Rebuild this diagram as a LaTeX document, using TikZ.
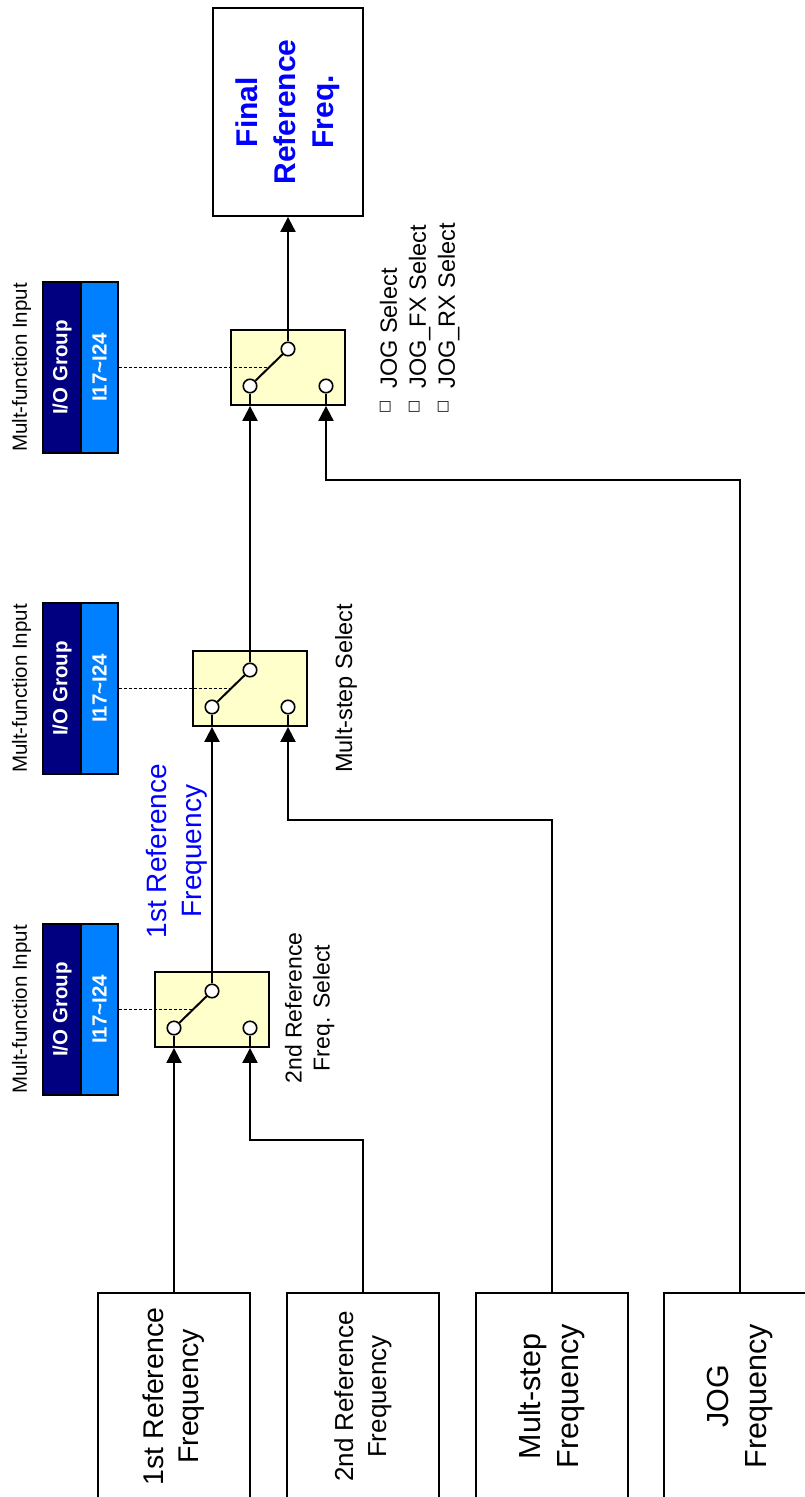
\documentclass[tikz,border=0pt]{standalone}
\usepackage{fontspec}
\setmainfont{Liberation Sans}
\newfontfamily\dejavu{DejaVu Sans}
\usetikzlibrary{arrows.meta,calc}
\definecolor{navyio}{RGB}{0,0,128}
\definecolor{blueio}{RGB}{0,128,255}
\definecolor{swfill}{RGB}{255,255,204}
\definecolor{lblblue}{RGB}{0,0,255}
\newcommand{\missbox}{\raisebox{8pt}{\dejavu\fontsize{14}{16}\selectfont □}}
\begin{document}
\begin{tikzpicture}[x=1pt,y=-1pt,
  box/.style={draw, line width=1.8pt, inner sep=0pt},
  swbox/.style={box, fill=swfill, minimum width=114pt, minimum height=75pt},
  srcbox/.style={box, minimum width=152pt, minimum height=207pt},
  term/.style={circle, draw, fill=white, line width=1.6pt, minimum size=13.5pt, inner sep=0pt},
  wire/.style={line width=2pt},
  arr/.style={wire, -{Triangle[length=15pt,width=15pt]}},
  ctl/.style={line width=1pt, dash pattern=on 3pt off 2pt},
  iobase/.style={draw, line width=1.4pt, minimum height=171pt, inner sep=0pt, text=white, font=\bfseries\fontsize{20.5}{24}\selectfont},
  iodark/.style={iobase, fill=navyio, minimum width=38pt},
  iolight/.style={iobase, fill=blueio, minimum width=37pt},
  mfi/.style={inner sep=0pt, font=\fontsize{20.5}{24}\selectfont},
  lbl/.style={inner sep=0pt}
]
\useasboundingbox (0,0) rectangle (804,1497);
\fill[white] (0,0) rectangle (804,1497);

% final box
\node[box, minimum width=150pt, minimum height=208pt] (fin) at (288,112)
  {\rotatebox{90}{\fontsize{30}{38}\selectfont\bfseries\color{lblblue}\begin{tabular}{@{}c@{}}Final\\Reference\\Freq.\end{tabular}}};

% source boxes
\node[srcbox] (b1) at (174,1396.5)
  {\rotatebox{90}{\fontsize{28.5}{35}\selectfont\begin{tabular}{@{}c@{}}1st Reference\\Frequency\end{tabular}}};
\node[srcbox] (b2) at (363,1396.5)
  {\rotatebox{90}{\fontsize{26}{33}\selectfont\begin{tabular}{@{}c@{}}2nd Reference\\Frequency\end{tabular}}};
\node[srcbox] (b3) at (552,1396.5)
  {\rotatebox{90}{\fontsize{30.5}{38}\selectfont\begin{tabular}{@{}c@{}}Mult-step\\Frequency\end{tabular}}};
\node[srcbox] (b4) at (740,1396.5)
  {\rotatebox{90}{\fontsize{30.5}{38}\selectfont\begin{tabular}{@{}c@{}}JOG\\Frequency\end{tabular}}};

% switches
\node[swbox] (sw1) at (212,1009.5) {};
\node[swbox] (sw2) at (250,688.5) {};
\node[swbox] (sw3) at (288,367.5) {};
\foreach \s in {1,2,3}{
  \node[term] (c\s l) at ($(sw\s)+(-38,18.5)$) {};
  \node[term] (c\s r) at ($(sw\s)+(38,18.5)$) {};
  \node[term] (c\s t) at ($(sw\s)+(0,-18.5)$) {};
  \draw[wire] (c\s l) -- (c\s l |- sw\s.south);
  \draw[wire] (c\s r) -- (c\s r |- sw\s.south);
  \draw[wire] (c\s l) -- (c\s t);
}

% I/O group boxes
\foreach \s/\yy in {1/1009.5,2/688.5,3/367.5}{
  \node[iodark] (io\s a) at (62,\yy) {\rotatebox{90}{I/O Group}};
  \node[iolight] (io\s b) at (99.5,\yy) {\rotatebox{90}{I17\textasciitilde I24}};
  \node[mfi] (mf\s) at (21.5,\yy) {\rotatebox{90}{Mult-function Input}};
  \draw[ctl] (io\s b.east) -- ($(c\s l)!0.5!(c\s t)$);
}

% connectors
\draw[arr] (b1.north) -- (c1l |- sw1.south);
\draw[arr] (b2.north) -- ++(0,-152) -| (c1r |- sw1.south);
\draw[arr] (b3.north) -- ++(0,-472) -| (c2r |- sw2.south);
\draw[arr] (b4.north) -- ++(0,-812) -| (c3r |- sw3.south);
\draw[arr] (c1t) -- (c2l |- sw2.south);
\draw[arr] (c2t) -- (c3l |- sw3.south);
\draw[arr] (c3t) -- (c3t |- fin.south);

% labels
\node[lbl] (l1st) at (177,851)
  {\rotatebox{90}{\fontsize{28}{35}\selectfont\color{lblblue}\begin{tabular}{@{}c@{}}1st Reference\\Frequency\end{tabular}}};
\node[lbl] (l2nd) at (310,1008)
  {\rotatebox{90}{\fontsize{23}{28}\selectfont\begin{tabular}{@{}c@{}}2nd Reference\\Freq. Select\end{tabular}}};
\node[lbl] (lms) at (346,688.5)
  {\rotatebox{90}{\fontsize{23.5}{28}\selectfont Mult-step Select}};
\node[lbl, anchor=south] (ljog) at (420,414)
  {\rotatebox{90}{\fontsize{23.5}{29}\selectfont\begin{tabular}{@{}l@{}}\missbox\hspace{12pt}JOG Select\\\missbox\hspace{12pt}JOG\_FX Select\\\missbox\hspace{12pt}JOG\_RX Select\end{tabular}}};
\end{tikzpicture}
\end{document}
